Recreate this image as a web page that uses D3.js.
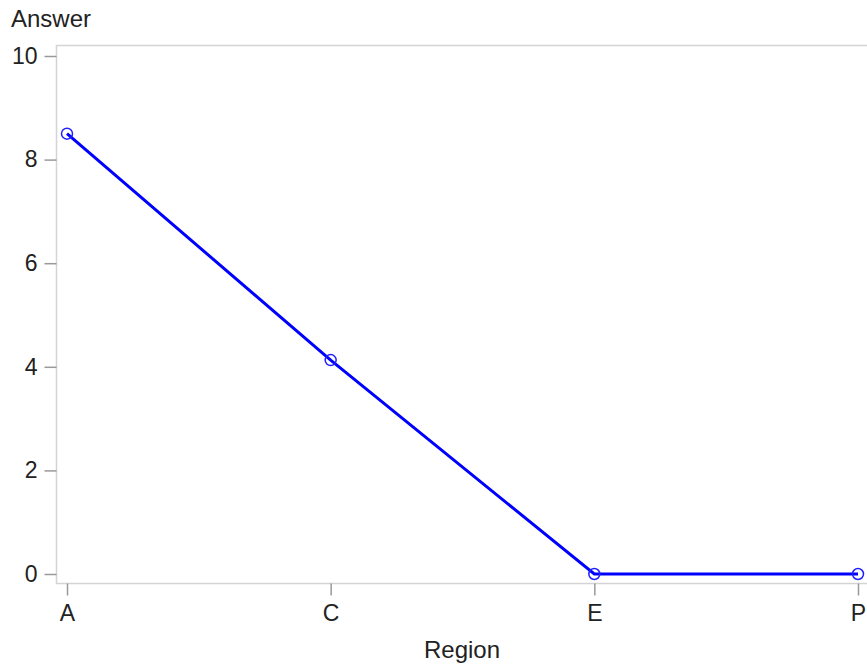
<!DOCTYPE html>
<html><head><meta charset="utf-8">
<script src="https://cdn.jsdelivr.net/npm/d3@7"></script>
<style>body{margin:0;background:#fff}svg{display:block}</style>
</head><body><svg id="c" width="867" height="667"></svg>
<script>
const categories = ["A", "C", "E", "P"];
const values = [8.5, 4.13, 0, 0];
const yTicks = [0, 2, 4, 6, 8, 10];

const svg = d3.select("#c");
const font = "Arial, 'Liberation Sans', sans-serif";
const frame = {left: 56.5, top: 45.5, right: 880, bottom: 583.5};

const x = d3.scalePoint().domain(categories).range([67, 858]);
const y = d3.scaleLinear().domain([0, 10]).range([574, 56]);

// frame
svg.append("rect").attr("x", frame.left).attr("y", frame.top)
  .attr("width", frame.right - frame.left).attr("height", frame.bottom - frame.top)
  .attr("fill", "none").attr("stroke", "#d4d4d4").attr("stroke-width", 1.5);

// y axis
const ya = svg.append("g").attr("transform", `translate(${frame.left},0)`)
  .call(d3.axisLeft(y).tickValues(yTicks).tickSize(12).tickPadding(7).tickFormat(d3.format("d")));
ya.select(".domain").remove();
ya.selectAll(".tick line").attr("stroke", "#999").attr("stroke-width", 1.5);
ya.selectAll(".tick text").attr("font-family", font).attr("font-size", 23).attr("fill", "#222");

// x axis
const xa = svg.append("g").attr("transform", `translate(0,${frame.bottom})`)
  .call(d3.axisBottom(x).tickSize(12).tickPadding(9));
xa.select(".domain").remove();
xa.selectAll(".tick line").attr("stroke", "#999").attr("stroke-width", 1.5);
xa.selectAll(".tick text").attr("font-family", font).attr("font-size", 23).attr("fill", "#222");

// titles
svg.append("text").attr("x", 11).attr("y", 27).text("Answer")
  .attr("font-family", font).attr("font-size", 24).attr("fill", "#222");
svg.append("text").attr("x", 462).attr("y", 658).attr("text-anchor", "middle").text("Region")
  .attr("font-family", font).attr("font-size", 24).attr("fill", "#222");

// line
const data = categories.map((c, i) => ({c, v: values[i]}));
svg.append("path").datum(data)
  .attr("d", d3.line().x(d => x(d.c)).y(d => y(d.v)))
  .attr("fill", "none").attr("stroke", "#0000ff").attr("stroke-width", 3);
svg.selectAll("circle.m").data(data).join("circle").attr("class", "m")
  .attr("cx", d => x(d.c)).attr("cy", d => y(d.v)).attr("r", 5.5)
  .attr("fill", "none").attr("stroke", "#2020ff").attr("stroke-width", 1.5);
</script></body></html>
